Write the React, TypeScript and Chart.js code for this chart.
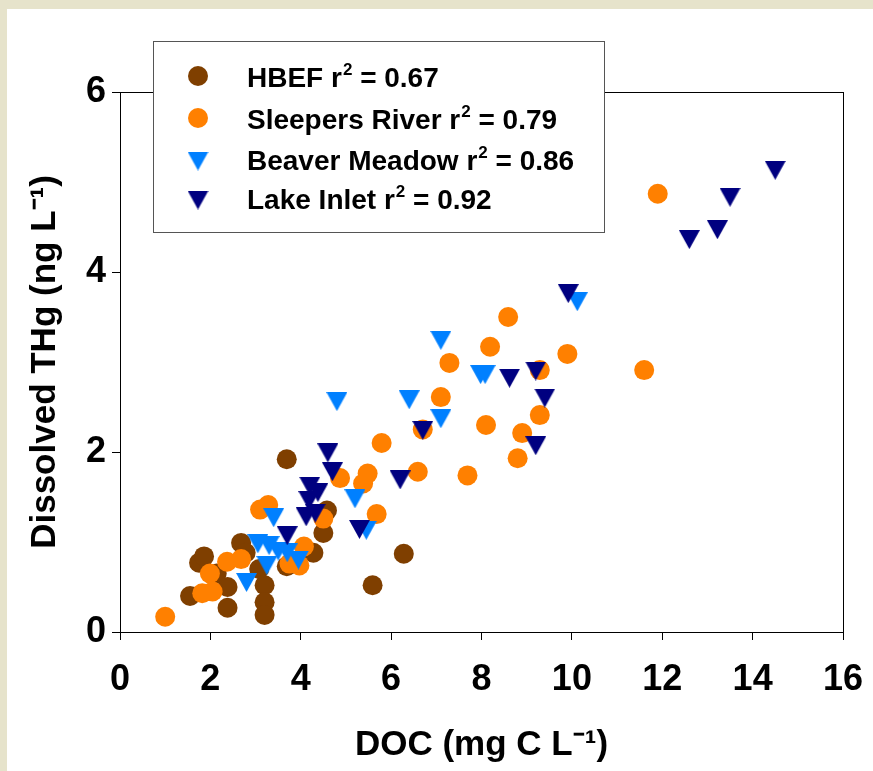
import React, { useEffect, useRef } from "react";
import { Chart, registerables } from "chart.js";

Chart.register(...registerables);

// ---- data ----
const SERIES_NAMES = ["HBEF", "Sleepers River", "Beaver Meadow", "Lake Inlet"];
const SERIES_R2 = ["0.67", "0.79", "0.86", "0.92"];
const SERIES_COLORS = ["#7F3F00", "#FF8000", "#0080FF", "#000080"];

const HBEF_X = [1.55, 1.75, 1.86, 2.14, 2.38, 2.38, 2.68, 2.78, 3.08, 3.2, 3.2, 3.2, 3.69, 3.69, 4.28, 4.5, 4.58, 5.59, 6.28];
const HBEF_Y = [0.40, 0.77, 0.84, 0.65, 0.50, 0.27, 0.99, 0.88, 0.70, 0.52, 0.33, 0.19, 0.73, 1.92, 0.88, 1.10, 1.35, 0.52, 0.87];

const SLEEPERS_X = [1.0, 1.82, 2.05, 1.99, 2.37, 2.68, 3.1, 3.28, 3.75, 3.97, 4.07, 4.5, 4.87, 5.38, 5.48, 5.68, 5.79, 6.59, 6.7, 7.1, 7.29, 7.69, 8.1, 8.19, 8.59, 8.8, 8.9, 9.29, 9.29, 9.9, 11.6, 11.9];
const SLEEPERS_Y = [0.17, 0.43, 0.45, 0.65, 0.78, 0.81, 1.36, 1.41, 0.76, 0.74, 0.95, 1.26, 1.71, 1.65, 1.76, 1.31, 2.10, 1.78, 2.25, 2.61, 2.99, 1.74, 2.30, 3.17, 3.50, 1.93, 2.21, 2.41, 2.91, 3.09, 2.91, 4.87];

const BEAVER_X = [2.8, 3.05, 3.3, 3.25, 3.5, 3.7, 3.95, 3.4, 4.8, 5.2, 5.45, 6.4, 7.1, 7.1, 7.98, 8.08, 10.12];
const BEAVER_Y = [0.55, 0.98, 0.96, 0.74, 0.90, 0.88, 0.80, 1.27, 2.56, 1.48, 1.13, 2.58, 3.24, 2.37, 2.86, 2.86, 3.67];

const LAKE_X = [3.7, 4.12, 4.32, 4.18, 4.38, 4.2, 4.6, 4.7, 5.3, 6.2, 6.7, 8.62, 9.2, 9.4, 9.2, 9.92, 12.6, 13.22, 13.5, 14.5];
const LAKE_Y = [1.07, 1.28, 1.32, 1.46, 1.55, 1.62, 1.99, 1.78, 1.14, 1.69, 2.24, 2.82, 2.9, 2.6, 2.07, 3.76, 4.36, 4.47, 4.83, 5.13];

const X_TICKS = [0, 2, 4, 6, 8, 10, 12, 14, 16];
const Y_TICKS = [0, 2, 4, 6];
const X_TITLE = "DOC (mg C L\u207B\u00B9)";
const Y_TITLE = "Dissolved THg (ng L\u207B\u00B9)";

const FONT = "'Liberation Sans', Arial, sans-serif";

function toPoints(xs: number[], ys: number[]) {
  return xs.map((x, i) => ({ x, y: ys[i] }));
}

function makeTriangle(color: string): HTMLCanvasElement {
  const c = document.createElement("canvas");
  c.width = 21;
  c.height = 19;
  const ctx = c.getContext("2d")!;
  ctx.fillStyle = color;
  ctx.beginPath();
  ctx.moveTo(0, 0);
  ctx.lineTo(21, 0);
  ctx.lineTo(10.5, 19);
  ctx.closePath();
  ctx.fill();
  return c;
}

const framePlugin = {
  id: "frame",
  beforeDatasetsDraw(chart: any) {
    const { ctx, chartArea } = chart;
    ctx.save();
    ctx.strokeStyle = "#000";
    ctx.lineWidth = 1;
    ctx.strokeRect(
      Math.round(chartArea.left) + 0.5,
      Math.round(chartArea.top) + 0.5,
      Math.round(chartArea.right - chartArea.left),
      Math.round(chartArea.bottom - chartArea.top)
    );
    ctx.restore();
  },
};

const legendPlugin = {
  id: "boxLegend",
  afterDraw(chart: any) {
    const { ctx } = chart;
    const boxL = 146, boxT = 32, boxR = 597, boxB = 223;
    ctx.save();
    ctx.fillStyle = "#fff";
    ctx.fillRect(boxL, boxT, boxR - boxL, boxB - boxT);
    ctx.strokeStyle = "#555";
    ctx.lineWidth = 1;
    ctx.strokeRect(boxL + 0.5, boxT + 0.5, boxR - boxL, boxB - boxT);
    const baselines = [78, 120, 161, 200];
    const markerX = 191;
    const textX = 240;
    chart.data.datasets.forEach((ds: any, i: number) => {
      const base = baselines[i];
      const style = ds.pointStyle;
      if (style && typeof style === "object") {
        ctx.drawImage(style, markerX - style.width / 2, base - 9 - style.height / 2);
      } else {
        ctx.fillStyle = ds.backgroundColor;
        ctx.beginPath();
        ctx.arc(markerX, base - 11, 10, 0, Math.PI * 2);
        ctx.fill();
      }
      ctx.fillStyle = "#000";
      ctx.textBaseline = "alphabetic";
      ctx.textAlign = "left";
      ctx.font = `bold 28px ${FONT}`;
      const part1 = `${SERIES_NAMES[i]} r`;
      ctx.fillText(part1, textX, base);
      let x = textX + ctx.measureText(part1).width + 1;
      ctx.font = `bold 17px ${FONT}`;
      ctx.fillText("2", x, base - 12);
      x += ctx.measureText("2").width;
      ctx.font = `bold 28px ${FONT}`;
      ctx.fillText(` = ${SERIES_R2[i]}`, x, base);
    });
    ctx.restore();
  },
};

export default function App() {
  const ref = useRef<HTMLCanvasElement | null>(null);
  useEffect(() => {
    const canvas = ref.current!;
    const triBeaver = makeTriangle(SERIES_COLORS[2]);
    const triLake = makeTriangle(SERIES_COLORS[3]);
    const tickFont = { family: FONT, size: 36, weight: "bold" as const };
    const titleFont = { family: FONT, size: 35, weight: "bold" as const };
    const chart = new Chart(canvas, {
      type: "scatter",
      data: {
        datasets: [
          {
            label: `${SERIES_NAMES[0]} r2 = ${SERIES_R2[0]}`,
            data: toPoints(HBEF_X, HBEF_Y),
            backgroundColor: SERIES_COLORS[0],
            borderColor: SERIES_COLORS[0],
            pointStyle: "circle",
            pointRadius: 10,
            pointBorderWidth: 0,
            order: 4,
          },
          {
            label: `${SERIES_NAMES[1]} r2 = ${SERIES_R2[1]}`,
            data: toPoints(SLEEPERS_X, SLEEPERS_Y),
            backgroundColor: SERIES_COLORS[1],
            borderColor: SERIES_COLORS[1],
            pointStyle: "circle",
            pointRadius: 10,
            pointBorderWidth: 0,
            order: 3,
          },
          {
            label: `${SERIES_NAMES[2]} r2 = ${SERIES_R2[2]}`,
            data: toPoints(BEAVER_X, BEAVER_Y),
            backgroundColor: SERIES_COLORS[2],
            borderColor: SERIES_COLORS[2],
            pointStyle: triBeaver as any,
            pointRadius: 10,
            pointBorderWidth: 0,
            order: 2,
          },
          {
            label: `${SERIES_NAMES[3]} r2 = ${SERIES_R2[3]}`,
            data: toPoints(LAKE_X, LAKE_Y),
            backgroundColor: SERIES_COLORS[3],
            borderColor: SERIES_COLORS[3],
            pointStyle: triLake as any,
            pointRadius: 10,
            pointBorderWidth: 0,
            order: 1,
          },
        ],
      },
      options: {
        responsive: false,
        animation: false,
        devicePixelRatio: 1,
        layout: { padding: { top: 83, right: 30, left: 0, bottom: 0 } },
        plugins: {
          legend: { display: false },
          tooltip: { enabled: false },
        },
        scales: {
          x: {
            type: "linear",
            min: 0,
            max: 16,
            afterBuildTicks: (s: any) => {
              s.ticks = X_TICKS.map((v) => ({ value: v }));
            },
            afterFit: (s: any) => {
              s.height = 139;
              s.paddingLeft = 0;
              s.paddingRight = 0;
            },
            ticks: { font: tickFont, color: "#000", padding: 18, maxRotation: 0, autoSkip: false },
            grid: { display: true, drawOnChartArea: false, drawTicks: true, tickLength: 8, color: "#000", lineWidth: 1 },
            border: { display: false },
            title: { display: true, text: X_TITLE, font: titleFont, color: "#000", padding: { top: 0, bottom: 5 } },
          },
          y: {
            type: "linear",
            min: 0,
            max: 6,
            afterBuildTicks: (s: any) => {
              s.ticks = Y_TICKS.map((v) => ({ value: v }));
            },
            afterFit: (s: any) => {
              s.width = 113;
              s.paddingTop = 0;
              s.paddingBottom = 0;
            },
            ticks: { font: tickFont, color: "#000", padding: 6, autoSkip: false },
            grid: { display: true, drawOnChartArea: false, drawTicks: true, tickLength: 8, color: "#000", lineWidth: 1 },
            border: { display: false },
            title: { display: true, text: Y_TITLE, font: titleFont, color: "#000", padding: { top: 17, bottom: 0 } },
          },
        },
      },
      plugins: [framePlugin, legendPlugin],
    });
    return () => chart.destroy();
  }, []);

  return (
    <div
      style={{
        position: "fixed",
        inset: 0,
        background: "#e6e3cb",
        overflow: "hidden",
      }}
    >
      <canvas
        ref={ref}
        width={866}
        height={762}
        style={{ position: "absolute", left: 7, top: 9, width: 866, height: 762, background: "#fff" }}
      />
    </div>
  );
}
